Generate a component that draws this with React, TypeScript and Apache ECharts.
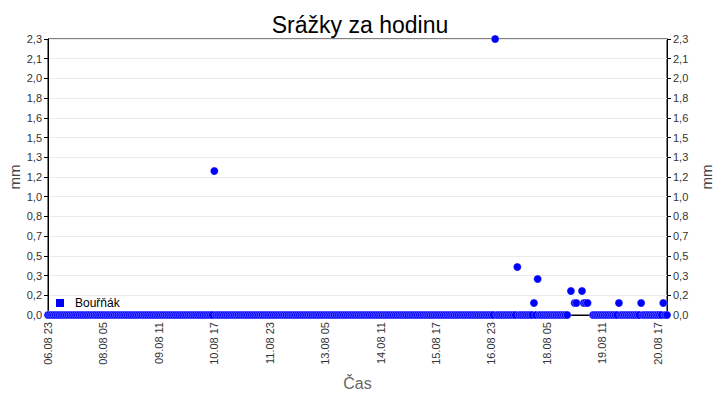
import { useEffect, useRef } from "react";
import * as echarts from "echarts";

// hodinová řada 06.08 23:00 – 20.08 22:00
const startDay = 6;
const startHour = 23;
const hourCount = 336;

// nenulové srážky (mm)
const rainEvents: [string, number][] = [
	["10.08 17", 1.2],
	["17.08 01", 2.3],
	["17.08 13", 0.4],
	["17.08 22", 0.1],
	["18.08 00", 0.3],
	["18.08 18", 0.2],
	["18.08 20", 0.1],
	["18.08 21", 0.1],
	["19.08 00", 0.2],
	["19.08 01", 0.1],
	["19.08 02", 0.1],
	["19.08 03", 0.1],
	["19.08 20", 0.1],
	["20.08 08", 0.1],
	["20.08 20", 0.1],
];

// hodiny bez záznamu
const missingHours = ["18.08 17", "18.08 19", "18.08 22", "18.08 23", "19.08 04", "19.08 05"];

const seriesName = "Bouřňák";
const yMax = 2.3;
const ySteps = 14;

const pad = (n: number) => String(n).padStart(2, "0");

const categories: string[] = [];
for (let i = 0; i < hourCount; i++) {
	const t = startHour + i;
	const day = startDay + Math.floor(t / 24);
	categories.push(`${pad(day)}.08 ${pad(t % 24)}`);
}

const values: (number | string)[] = categories.map(c => {
	if (missingHours.includes(c)) return "-";
	const ev = rainEvents.find(e => e[0] === c);
	return ev ? ev[1] : 0;
});

const FONT = "Liberation Sans";

const App: React.FC = () => {
	const chartRef = useRef<HTMLDivElement>(null);

	useEffect(() => {
		if (!chartRef.current) return;
		const chart = echarts.init(chartRef.current, null, { renderer: "svg" });

		const yAxisBase = {
			type: "value",
			min: 0,
			max: yMax,
			interval: yMax / ySteps,
			name: "mm",
			nameLocation: "middle",
			nameRotate: 90,
			nameMoveOverlap: false,
			nameTextStyle: { color: "#444", fontSize: 15, fontFamily: FONT },
			axisLine: { show: true, lineStyle: { color: "#000" } },
			axisTick: { show: true, length: 4, lineStyle: { color: "#000" } },
			axisLabel: {
				color: "#333",
				fontSize: 11,
				fontFamily: FONT,
				margin: 6,
				formatter: (v: number) => (v + 1e-9).toFixed(1).replace(".", ","),
			},
			splitLine: { lineStyle: { color: "#ebebeb" } },
		};

		const option = {
			animation: false,
			backgroundColor: "#fff",
			title: {
				text: "Srážky za hodinu",
				left: "center",
				top: 8,
				textStyle: { color: "#000", fontSize: 23, fontWeight: "normal", fontFamily: FONT },
			},
			legend: {
				left: 49,
				top: 292,
				icon: "rect",
				itemWidth: 10,
				itemHeight: 10,
				textStyle: { color: "#000", fontSize: 12, fontFamily: FONT, padding: [0, 0, 0, 5] },
				data: [seriesName],
			},
			grid: {
				left: 48,
				right: 53,
				top: 39,
				bottom: 85,
				outerBoundsMode: "none",
				show: true,
				borderColor: "#000",
				borderWidth: 1,
			},
			xAxis: {
				type: "category",
				data: categories,
				boundaryGap: false,
				name: "Čas",
				nameLocation: "middle",
				nameGap: 60,
				nameMoveOverlap: false,
				nameTextStyle: { color: "#666", fontSize: 16, fontFamily: FONT },
				axisLine: { lineStyle: { color: "#000" } },
				axisTick: { show: true, inside: true, length: 4, interval: 29, lineStyle: { color: "#000" } },
				axisLabel: {
					interval: 29,
					rotate: 90,
					color: "#333",
					fontSize: 11,
					fontFamily: FONT,
					margin: 7,
				},
				splitLine: { show: false },
			},
			yAxis: [
				{ ...yAxisBase, position: "left", nameGap: 26 },
				{ ...yAxisBase, position: "right", nameGap: 32, splitLine: { show: false } },
			],
			series: [
				{
					name: seriesName,
					type: "scatter",
					data: values,
					symbol: "circle",
					symbolSize: 8,
					itemStyle: { color: "#0000ff", opacity: 1, borderColor: "#ffffff", borderWidth: 0.3 },
				},
			],
		};

		chart.setOption(option);
		return () => chart.dispose();
	}, []);

	return <div ref={chartRef} style={{ position: "fixed", left: 0, top: 0, width: 720, height: 400 }} />;
};

export default App;
